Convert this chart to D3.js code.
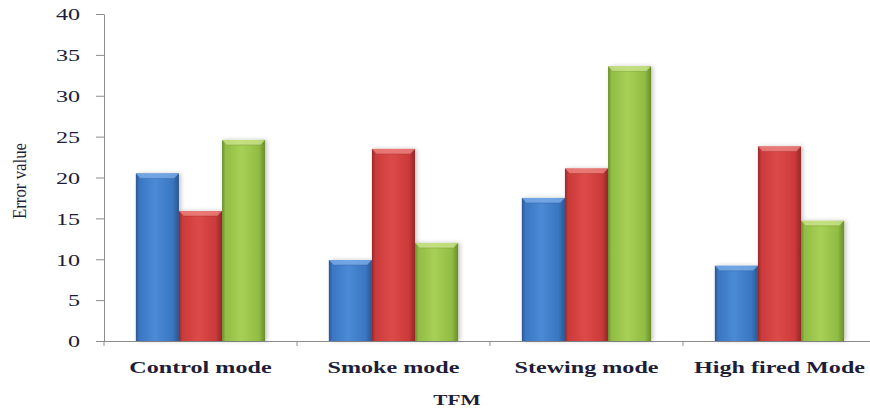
<!DOCTYPE html>
<html>
<head>
<meta charset="utf-8">
<script src="https://cdn.jsdelivr.net/npm/d3@7"></script>
<style>
  html, body { margin: 0; padding: 0; background: #fff; }
  svg { display: block; }
  text { font-family: "Liberation Serif", "DejaVu Serif", serif; fill: #1e1e38; }
</style>
</head>
<body>
<svg id="chart" width="870" height="412"></svg>
<script>
// Chart data
const categories = ["Control mode", "Smoke mode", "Stewing mode", "High fired Mode"];
const seriesBlue  = [20.5, 9.9, 17.5, 9.2];
const seriesRed   = [15.9, 23.5, 21.1, 23.8];
const seriesGreen = [24.6, 12.0, 33.6, 14.7];
const yTicks = [0, 5, 10, 15, 20, 25, 30, 35, 40];
const yLabel = "Error value";
const xLabel = "TFM";

const seriesKeys = ["blue", "red", "green"];
const seriesData = { blue: seriesBlue, red: seriesRed, green: seriesGreen };

// Bar palettes: edge, body, highlight, top bevel
const palette = {
  blue:  { edge: "#2a568f", body: "#3a76c2", light: "#4b8ad6", bevel: "#7fb0ea" },
  red:   { edge: "#962828", body: "#cb3a3a", light: "#dc4b48", bevel: "#ef8a86" },
  green: { edge: "#6a8c2c", body: "#91bd44", light: "#a7d056", bevel: "#cde690" }
};

const svg = d3.select("#chart");
const plot = { left: 104, right: 876, top: 14, bottom: 341 };
const stretch = 1.42; // wide glyph proportions

const x0 = d3.scaleBand().domain(categories).range([plot.left, plot.right]).padding(0);
const x1 = d3.scaleBand().domain(seriesKeys)
  .range([x0.bandwidth() * 0.165, x0.bandwidth() * 0.835]).padding(0);
const y = d3.scaleLinear().domain([0, 40]).range([plot.bottom, plot.top]);

const defs = svg.append("defs");
seriesKeys.forEach(k => {
  const p = palette[k];
  const g = defs.append("linearGradient").attr("id", "grad-" + k)
    .attr("x1", "0%").attr("x2", "100%").attr("y1", "0%").attr("y2", "0%");
  [[0, p.edge], [0.08, p.body], [0.45, p.light], [0.85, p.body], [1, p.edge]]
    .forEach(([o, c]) => g.append("stop").attr("offset", o).attr("stop-color", c));
});
const shadow = defs.append("filter").attr("id", "shadow")
  .attr("x", "-20%").attr("y", "-10%").attr("width", "150%").attr("height", "120%");
shadow.append("feDropShadow").attr("dx", 2).attr("dy", 0).attr("stdDeviation", 2)
  .attr("flood-color", "#000").attr("flood-opacity", 0.22);

// Axes
const yAxis = svg.append("g").attr("transform", `translate(${plot.left},0)`)
  .call(d3.axisLeft(y).tickValues(yTicks).tickSize(8).tickSizeOuter(0));
yAxis.select(".domain").attr("stroke", "#8c8c8c");
yAxis.selectAll(".tick line").attr("stroke", "#8c8c8c");
yAxis.selectAll(".tick text")
  .attr("x", -24 / stretch)
  .attr("dy", "0.34em")
  .attr("transform", `scale(${stretch},1)`)
  .style("font-size", "17px")
  .style("font-family", "'Liberation Serif', serif")
  .style("fill", "#1e1e38");

const xAxis = svg.append("g").attr("transform", `translate(0,${plot.bottom})`)
  .call(d3.axisBottom(x0).tickSize(0).tickSizeOuter(0));
xAxis.select(".domain").attr("stroke", "#8c8c8c").attr("d", `M${plot.left},0.5H870`);
xAxis.selectAll(".tick text")
  .attr("y", 0).attr("dy", 0)
  .attr("transform", `translate(0,32) scale(${stretch},1)`)
  .style("font-size", "17px")
  .style("font-weight", "bold")
  .style("font-family", "'Liberation Serif', serif")
  .style("fill", "#1e1e38");

// Category boundary ticks
const bounds = categories.map(c => x0(c)).concat([plot.right]);
svg.append("g").selectAll("line").data(bounds).join("line")
  .attr("x1", d => d).attr("x2", d => d)
  .attr("y1", plot.bottom).attr("y2", plot.bottom + 5)
  .attr("stroke", "#8c8c8c");

// Bars
const bev = 5;
const groups = svg.append("g").selectAll("g").data(categories).join("g")
  .attr("transform", d => `translate(${x0(d)},0)`);
groups.each(function(cat, i) {
  const g = d3.select(this);
  seriesKeys.forEach(k => {
    const v = seriesData[k][i];
    const bx = x1(k), bw = x1.bandwidth(), by = y(v), bh = y(0) - y(v);
    g.append("rect")
      .attr("x", bx).attr("y", by).attr("width", bw).attr("height", bh)
      .attr("fill", `url(#grad-${k})`)
      .attr("filter", "url(#shadow)");
    // bevelled top
    g.append("path")
      .attr("d", `M${bx},${by}H${bx + bw}L${bx + bw - bev},${by + bev}H${bx + bev}Z`)
      .attr("fill", palette[k].bevel).attr("opacity", 0.75);
    g.append("path")
      .attr("d", `M${bx + bev},${by + bev}H${bx + bw - bev}`)
      .attr("stroke", palette[k].edge).attr("stroke-opacity", 0.35).attr("stroke-width", 1);
  });
});

// Axis titles
svg.append("text")
  .attr("transform", `translate(26,181) rotate(-90) scale(1.12,1.3)`)
  .attr("text-anchor", "middle")
  .style("font-size", "15px")
  .text(yLabel);

svg.append("text")
  .attr("transform", `translate(457,405) scale(${stretch},1)`)
  .attr("text-anchor", "middle")
  .style("font-size", "15px")
  .style("font-weight", "bold")
  .text(xLabel);
</script>
</body>
</html>
